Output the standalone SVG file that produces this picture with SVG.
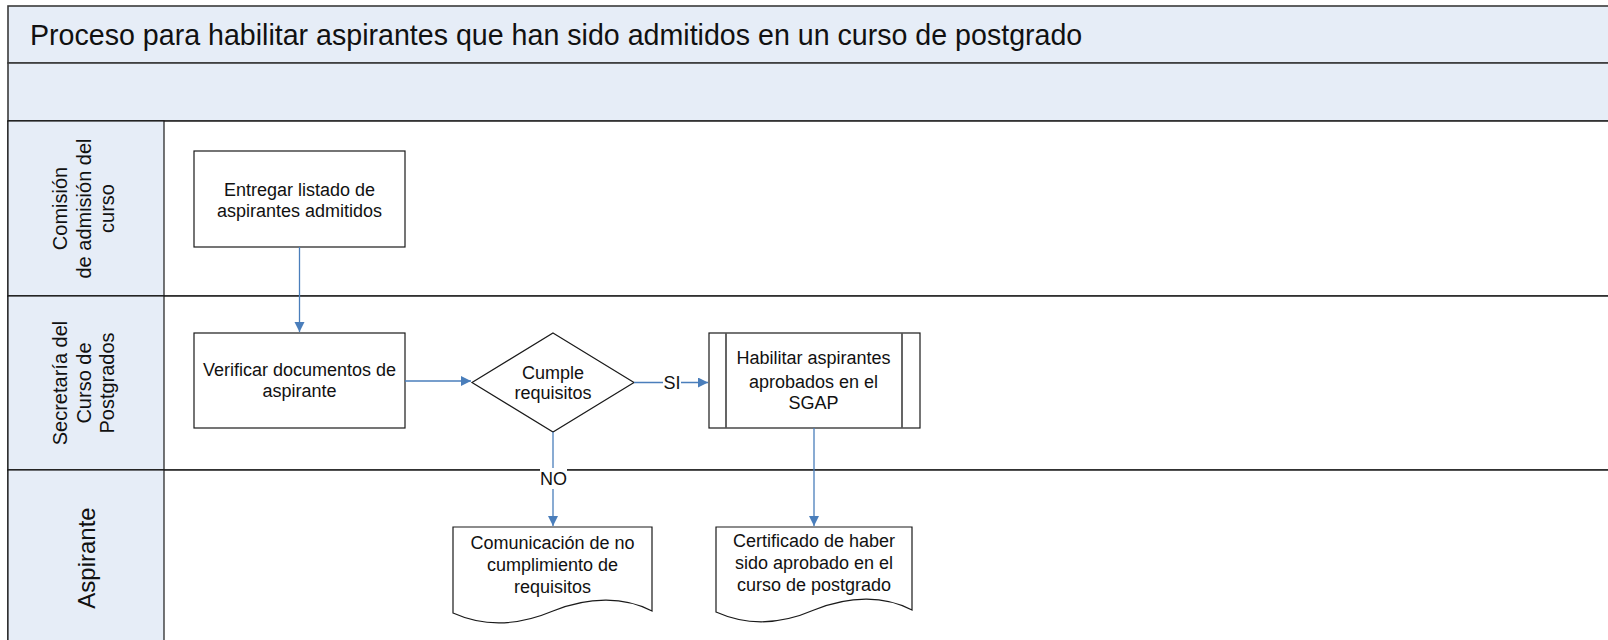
<svg xmlns="http://www.w3.org/2000/svg" width="1608" height="640" viewBox="0 0 1608 640">
  <defs>
    <style>
      .band { fill: #e6edf7; stroke: #3a3a3a; stroke-width: 1.6; }
      .lane { fill: #ffffff; stroke: #2a2a2a; stroke-width: 1.6; }
      .hdr { fill: #e6edf7; stroke: #1a1a1a; stroke-width: 1.2; }
      .shape { fill: #ffffff; stroke: #1a1a1a; stroke-width: 1.2; }
      .inner { stroke: #555555; stroke-width: 1.8; fill: none; }
      .t { font-family: "Liberation Sans", Arial, sans-serif; font-size: 18px; fill: #111111; text-anchor: middle; }
      .lt { font-family: "Liberation Sans", Arial, sans-serif; font-size: 20px; fill: #111111; text-anchor: middle; }
      .title { font-family: "Liberation Sans", Arial, sans-serif; font-size: 28.6px; fill: #111111; }
      .conn { stroke: #4a7ebb; stroke-width: 1.3; fill: none; }
      .lblbg { fill: #ffffff; }
    </style>
    <marker id="arrow" markerUnits="userSpaceOnUse" markerWidth="11" markerHeight="11" refX="10" refY="5" orient="auto">
      <path d="M0,0 L10,5 L0,10 z" fill="#4a7ebb"/>
    </marker>
  </defs>

  <rect x="0" y="0" width="1608" height="640" fill="#ffffff"/>

  <g id="pool">
    <rect class="band" x="8" y="6" width="1620" height="57"/>
    <text class="title" x="30" y="44.5">Proceso para habilitar aspirantes que han sido admitidos en un curso de postgrado</text>
    <rect class="band" x="8" y="63" width="1620" height="58"/>
  </g>

  <g id="lane-comision">
    <rect class="lane" x="8" y="121" width="1620" height="175"/>
    <rect class="hdr" x="8" y="121" width="156" height="175"/>
    <text class="lt" transform="translate(67,208.5) rotate(-90)">Comisión</text>
    <text class="lt" transform="translate(90.5,208.5) rotate(-90)">de admisión del</text>
    <text class="lt" transform="translate(114,208.5) rotate(-90)">curso</text>
  </g>

  <g id="lane-secretaria">
    <rect class="lane" x="8" y="296" width="1620" height="174"/>
    <rect class="hdr" x="8" y="296" width="156" height="174"/>
    <text class="lt" transform="translate(67,383) rotate(-90)">Secretaría del</text>
    <text class="lt" transform="translate(90.5,383) rotate(-90)">Curso de</text>
    <text class="lt" transform="translate(114,383) rotate(-90)">Postgrados</text>
  </g>

  <g id="lane-aspirante">
    <rect class="lane" x="8" y="470" width="1620" height="180"/>
    <rect class="hdr" x="8" y="470" width="156" height="180"/>
    <text class="lt" style="font-size:24px" transform="translate(95,558) rotate(-90)">Aspirante</text>
  </g>

  <g id="node-entregar">
    <rect class="shape" x="194" y="151" width="211" height="96"/>
    <text class="t" x="299.5" y="195.5">Entregar listado de</text>
    <text class="t" x="299.5" y="216.5">aspirantes admitidos</text>
  </g>

  <g id="node-verificar">
    <rect class="shape" x="194" y="333" width="211" height="95"/>
    <text class="t" x="299.5" y="375.5">Verificar documentos de</text>
    <text class="t" x="299.5" y="397">aspirante</text>
  </g>

  <g id="node-cumple">
    <polygon class="shape" points="553,333 634,382.5 553,432 472,382.5"/>
    <text class="t" x="553" y="378.5">Cumple</text>
    <text class="t" x="553" y="399">requisitos</text>
  </g>

  <g id="node-habilitar">
    <rect class="shape" x="709" y="333" width="211" height="95"/>
    <line class="inner" x1="726" y1="333" x2="726" y2="428"/>
    <line class="inner" x1="902" y1="333" x2="902" y2="428"/>
    <text class="t" x="813.5" y="364">Habilitar aspirantes</text>
    <text class="t" x="813.5" y="387.5">aprobados en el</text>
    <text class="t" x="813.5" y="408.5">SGAP</text>
  </g>

  <g id="node-comunicacion">
    <path class="shape" d="M453,527 H652 V611 C625,597 590,596 553,611 C515,627 482,626 453,613 Z"/>
    <text class="t" x="552.5" y="549">Comunicación de no</text>
    <text class="t" x="552.5" y="571">cumplimiento de</text>
    <text class="t" x="552.5" y="593">requisitos</text>
  </g>

  <g id="node-certificado">
    <path class="shape" d="M716,527 H912 V610 C885,596 851,595 814,610 C777,626 745,625 716,612 Z"/>
    <text class="t" x="814" y="547">Certificado de haber</text>
    <text class="t" x="814" y="569">sido aprobado en el</text>
    <text class="t" x="814" y="591">curso de postgrado</text>
  </g>

  <g id="connectors">
    <line class="conn" x1="299.5" y1="247" x2="299.5" y2="332" marker-end="url(#arrow)"/>
    <line class="conn" x1="405" y1="381" x2="471" y2="381" marker-end="url(#arrow)"/>
    <line class="conn" x1="634" y1="382.5" x2="708" y2="382.5" marker-end="url(#arrow)"/>
    <rect class="lblbg" x="663" y="372" width="18" height="20"/>
    <text class="t" x="672" y="389">SI</text>
    <line class="conn" x1="553" y1="432" x2="553" y2="526" marker-end="url(#arrow)"/>
    <rect class="lblbg" x="540" y="468" width="27" height="21"/>
    <text class="t" x="553.5" y="485">NO</text>
    <line class="conn" x1="814" y1="428" x2="814" y2="526" marker-end="url(#arrow)"/>
  </g>
</svg>
